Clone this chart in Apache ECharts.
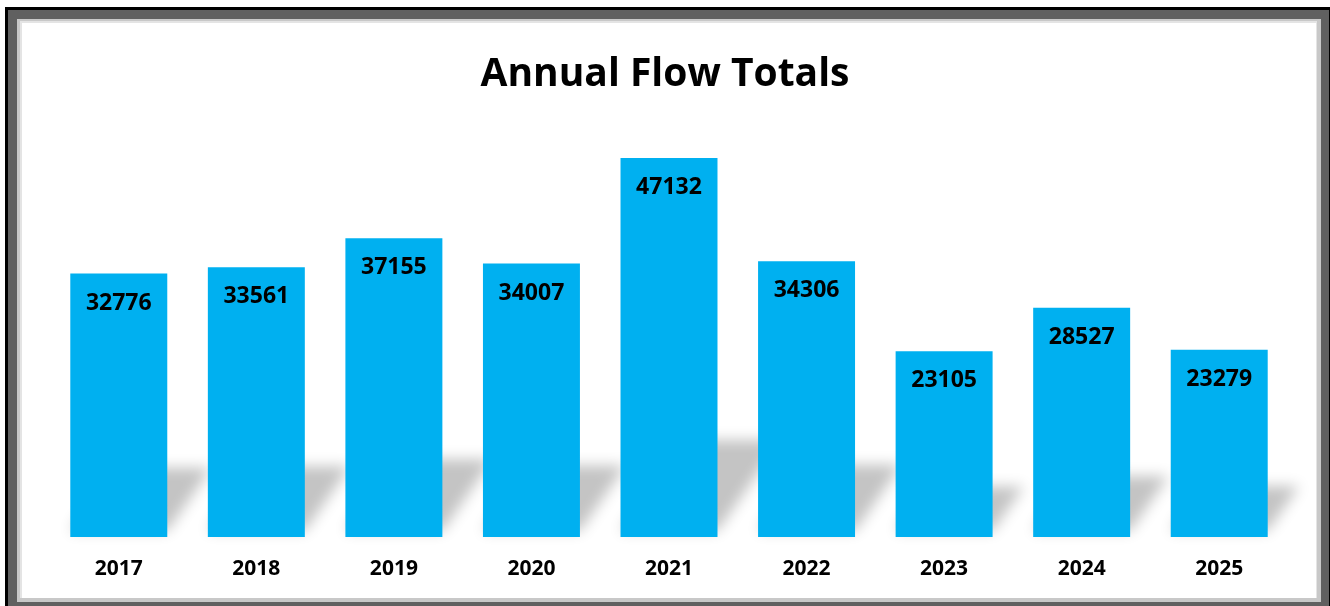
<!DOCTYPE html>
<html><head><meta charset="utf-8">
<script src="https://cdn.jsdelivr.net/npm/echarts@6/dist/echarts.min.js"></script>
<style>
html,body{margin:0;padding:0;width:1330px;height:606px;background:#fff;overflow:hidden}
#f1{position:absolute;left:5px;top:7px;width:1325px;height:599px;background:#000}
#f2{position:absolute;left:8px;top:10px;width:1321px;height:596px;background:#606060}
#f3{position:absolute;left:17px;top:19px;width:1304px;height:583px;background:#c8c8c8}
#f4{position:absolute;left:20px;top:21px;width:1297px;height:577px;background:#e4e4e4}
#f5{position:absolute;left:22px;top:23px;width:1294px;height:575px;background:#fff}
#c{position:absolute;left:0;top:0;width:1330px;height:606px}
</style></head><body>
<div id="f1"></div><div id="f2"></div><div id="f3"></div><div id="f4"></div><div id="f5"></div>
<div id="c"></div>
<script>
const categories = ['2017','2018','2019','2020','2021','2022','2023','2024','2025'];
const flowTotals = [32776, 33561, 37155, 34007, 47132, 34306, 23105, 28527, 23279];
const titleText = 'Annual Flow Totals';

const chart = echarts.init(document.getElementById('c'), null, {renderer:'canvas', devicePixelRatio: 1});
const FONT = '"Open Sans", sans-serif';
const OFF = 3000;
chart.setOption({
  backgroundColor: 'transparent',
  animation: false,
  title: {
    text: titleText, left: 'center', top: 50,
    textStyle: {fontFamily: FONT, fontWeight: 'bold', fontSize: 39, color: '#000'}
  },
  grid: {left: 50, right: 42, top: 135, bottom: 69},
  xAxis: {
    type: 'category', data: categories,
    axisLine: {show: false}, axisTick: {show: false},
    axisLabel: {margin: 22, fontFamily: FONT, fontWeight: 'bold', fontSize: 21, color: '#000'}
  },
  yAxis: {type: 'value', min: 0, max: 50000, show: false, splitLine: {show: false}},
  series: [
    {
      type: 'custom', z: 1, silent: true, clip: false,
      data: flowTotals.map((v, i) => [i, v]),
      encode: {x: 0, y: 1},
      renderItem: function (params, api) {
        const idx = api.value(0);
        const v = api.value(1);
        const base = api.coord([idx, 0]);
        const top = api.coord([idx, v]);
        const bw = api.size([1, 0])[0] * 0.705;
        const h = (base[1] - top[1]) * 0.24;
        const yb = base[1] - 6;
        const yt = yb - h;
        const dx = h * 0.7;
        const xl = base[0] - bw / 2 - OFF, xr = base[0] + bw / 2 - OFF;
        return {
          type: 'polygon',
          shape: {points: [[xl, yb], [xr, yb], [xr + dx, yt], [xl + dx, yt]]},
          style: {fill: '#c8c8c8', shadowBlur: 14, shadowColor: '#c4c4c4', shadowOffsetX: OFF, shadowOffsetY: 0}
        };
      }
    },
    {
      type: 'bar', z: 2, data: flowTotals, barWidth: '70.5%',
      itemStyle: {color: '#00B0F0'},
      label: {
        show: true, position: 'insideTop', distance: 18,
        fontFamily: FONT, fontWeight: 'bold', fontSize: 23, color: '#000'
      }
    }
  ]
});
</script></body></html>
